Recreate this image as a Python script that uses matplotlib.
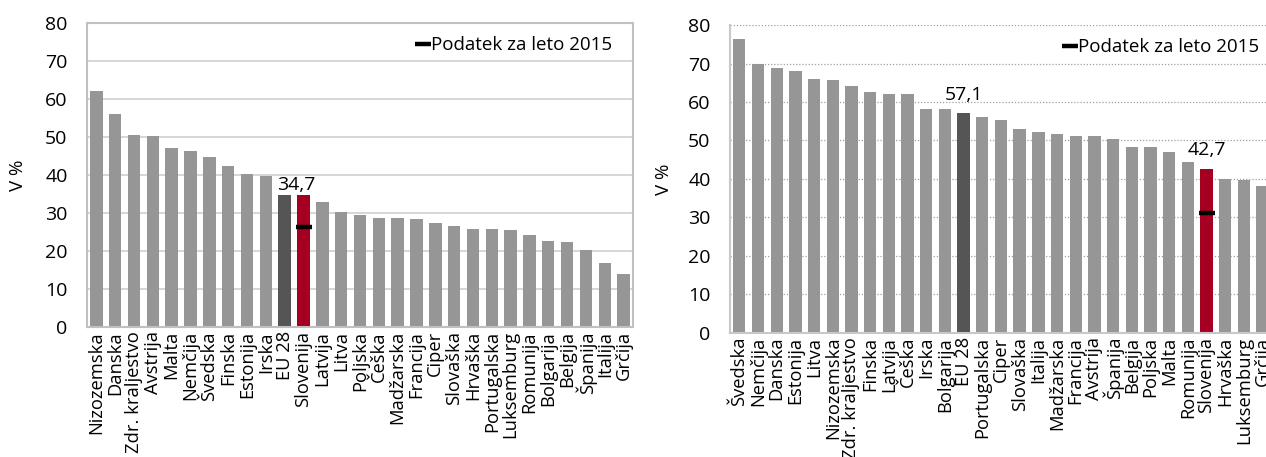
import matplotlib
matplotlib.use('Agg')
import matplotlib.pyplot as plt

plt.rcParams['font.family'] = ['Open Sans', 'DejaVu Sans']

# levi graf
drzave_l = ['Nizozemska', 'Danska', 'Zdr. kraljestvo', 'Avstrija', 'Malta', 'Nemčija',
            'Švedska', 'Finska', 'Estonija', 'Irska', 'EU 28', 'Slovenija', 'Latvija',
            'Litva', 'Poljska', 'Češka', 'Madžarska', 'Francija', 'Ciper', 'Slovaška',
            'Hrvaška', 'Portugalska', 'Luksemburg', 'Romunija', 'Bolgarija', 'Belgija',
            'Španija', 'Italija', 'Grčija']
vrednosti_l = [62.1, 56.1, 50.5, 50.3, 47.2, 46.3, 44.7, 42.3, 40.3, 39.8, 34.7, 34.7, 32.8,
               30.3, 29.4, 28.8, 28.8, 28.5, 27.4, 26.6, 25.7, 25.7, 25.5, 24.3, 22.7, 22.5,
               20.3, 16.8, 13.9]
slo_2015_l = 26.2

# desni graf
drzave_d = ['Švedska', 'Nemčija', 'Danska', 'Estonija', 'Litva', 'Nizozemska',
            'Zdr. kraljestvo', 'Finska', 'Latvija', 'Češka', 'Irska', 'Bolgarija', 'EU 28',
            'Portugalska', 'Ciper', 'Slovaška', 'Italija', 'Madžarska', 'Francija',
            'Avstrija', 'Španija', 'Belgija', 'Poljska', 'Malta', 'Romunija', 'Slovenija',
            'Hrvaška', 'Luksemburg', 'Grčija']
vrednosti_d = [76.4, 70.0, 68.8, 68.0, 66.1, 65.6, 64.1, 62.5, 62.2, 62.0, 58.3, 58.2, 57.1,
               56.1, 55.2, 52.9, 52.1, 51.6, 51.1, 51.1, 50.4, 48.3, 48.3, 47.1, 44.3, 42.7,
               40.1, 39.7, 38.1]
slo_2015_d = 31.1

SIVA = '#969696'
EU = '#555555'
SLO = '#a50021'


def barve(drzave):
    b = []
    for d in drzave:
        if d == 'EU 28':
            b.append(EU)
        elif d == 'Slovenija':
            b.append(SLO)
        else:
            b.append(SIVA)
    return b


def graf(ax, drzave, vrednosti, slo_2015, mreza, napis_premik, napis_dvig):
    x = range(len(drzave))
    ax.bar(x, vrednosti, width=0.66, color=barve(drzave), zorder=2)
    i_slo = drzave.index('Slovenija')
    ax.plot([i_slo], [slo_2015], linestyle='none', marker='_', markersize=11,
            markeredgewidth=3.2, color='black', zorder=3, label='Podatek za leto 2015')
    # oznake vrednosti
    i_eu = drzave.index('EU 28')
    for i in (i_eu, i_slo):
        if napis_premik is not None and i == i_eu:
            continue
        xi = i if napis_premik is None else i + napis_premik
        ax.text(xi, vrednosti[i] + napis_dvig, ('%.1f' % vrednosti[i]).replace('.', ','),
                ha='center', va='bottom', fontsize=14)
    ax.set_xlim(-0.5, len(drzave) - 0.5)
    ax.set_ylim(0, 80)
    ax.set_yticks(range(0, 81, 10))
    ax.set_xticks(list(x))
    ax.set_xticklabels(drzave, rotation=90, fontsize=13.2, va='top', ha='center')
    ax.tick_params(axis='both', length=0)
    ax.tick_params(axis='y', labelsize=14, pad=14)
    ax.tick_params(axis='x', pad=3)
    ax.set_ylabel('V %', fontsize=13.5)
    if mreza == 'solid':
        ax.grid(axis='y', color='#d0d0d0', linewidth=1.2, zorder=0)
        for s in ax.spines.values():
            s.set_color('#c0c0c0')
            s.set_linewidth(1.5)
    else:
        ax.grid(axis='y', color='#a0a0a0', linewidth=0.9, linestyle=(0, (1, 1.5)), zorder=0)
        ax.spines['top'].set_visible(False)
        ax.spines['right'].set_visible(False)
        for s in ('left', 'bottom'):
            ax.spines[s].set_color('#c8c8c8')
            ax.spines[s].set_linewidth(1.5)
    ax.set_axisbelow(True)
    ax.legend(loc='upper right', frameon=False, fontsize=13.5, handlelength=0.6,
              handletextpad=0.1, borderaxespad=0.3)


fig = plt.figure(figsize=(12.66, 4.57), dpi=100)
ax1 = fig.add_axes([0.0687, 0.2845, 0.4313, 0.665])
ax2 = fig.add_axes([0.5766, 0.272, 0.4281, 0.673])

graf(ax1, drzave_l, vrednosti_l, slo_2015_l, 'solid', -0.4, 0.3)
graf(ax2, drzave_d, vrednosti_d, slo_2015_d, 'dotted', None, 2.5)

ax1.yaxis.set_label_coords(-0.11, 0.5)
ax2.yaxis.set_label_coords(-0.105, 0.5)
ax1.get_legend().set_bbox_to_anchor((0.985, 1.0))

fig.savefig('out.png', dpi=100)
